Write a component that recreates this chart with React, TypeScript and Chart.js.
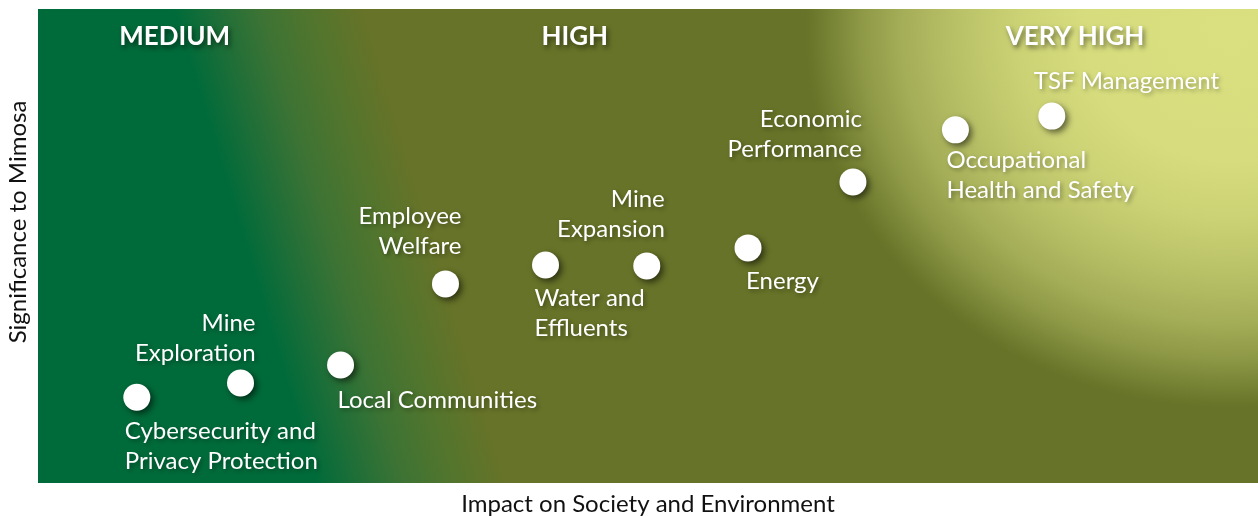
import React, { useEffect, useRef } from "react";
import { Chart, registerables } from "chart.js";

Chart.register(...registerables);

// ---- data ----
const topics: string[][] = [
  ["Cybersecurity and", "Privacy Protection"],
  ["Mine", "Exploration"],
  ["Local Communities"],
  ["Employee", "Welfare"],
  ["Water and", "Effluents"],
  ["Mine", "Expansion"],
  ["Energy"],
  ["Economic", "Performance"],
  ["Occupational", "Health and Safety"],
  ["TSF Management"],
];
const impactOnSociety = [0.81, 1.66, 2.48, 3.34, 4.16, 4.99, 5.82, 6.68, 7.52, 8.31];
const significanceToMimosa = [1.81, 2.11, 2.49, 4.2, 4.6, 4.58, 4.96, 6.35, 7.45, 7.74];

const zoneLabels = ["MEDIUM", "HIGH", "VERY HIGH"];
const zoneCenters = [1.12, 4.4, 8.5];

const xTitle = "Impact on Society and Environment";
const yTitle = "Significance to Mimosa";

// ---- label placement (style) ----
type Place = { align: CanvasTextAlign; dx: number; dy: number };
const placements: Place[] = [
  { align: "left", dx: -12, dy: 34 },
  { align: "right", dx: 15, dy: -60 },
  { align: "left", dx: -3, dy: 35 },
  { align: "right", dx: 16, dy: -68 },
  { align: "left", dx: -11, dy: 33 },
  { align: "right", dx: 18, dy: -67 },
  { align: "left", dx: -2, dy: 33 },
  { align: "right", dx: 9, dy: -63 },
  { align: "left", dx: -9, dy: 30 },
  { align: "left", dx: -18, dy: -35 },
];

const FONT = "Lato, 'Noto Sans', sans-serif";
const LINE_H = 30.5;

const backgroundPlugin = {
  id: "matrixBackground",
  beforeDraw(chart: any) {
    const { ctx, chartArea } = chart;
    const { left, top, right, bottom } = chartArea;
    ctx.save();
    ctx.beginPath();
    ctx.rect(left, top, right - left, bottom - top);
    ctx.clip();
    const lg = ctx.createLinearGradient(245, 245, 418, 193);
    lg.addColorStop(0, "rgb(0,107,58)");
    lg.addColorStop(0.2, "rgb(28,110,56)");
    lg.addColorStop(0.45, "rgb(60,115,52)");
    lg.addColorStop(0.72, "rgb(82,117,45)");
    lg.addColorStop(1, "rgb(102,115,40)");
    ctx.fillStyle = lg;
    ctx.fillRect(left, top, right - left, bottom - top);

    // elliptical glow in the top-right corner
    const cx = 1230, cy = 30, rx = 425, ry = 378;
    ctx.translate(cx, cy);
    ctx.scale(rx / ry, 1);
    const rg = ctx.createRadialGradient(0, 0, 0, 0, 0, ry);
    const L = "218,224,128";
    rg.addColorStop(0, `rgba(${L},1)`);
    rg.addColorStop(0.35, `rgba(${L},0.97)`);
    rg.addColorStop(0.5, `rgba(${L},0.87)`);
    rg.addColorStop(0.65, `rgba(${L},0.71)`);
    rg.addColorStop(0.77, `rgba(${L},0.54)`);
    rg.addColorStop(0.87, `rgba(${L},0.34)`);
    rg.addColorStop(0.95, `rgba(${L},0.12)`);
    rg.addColorStop(1, `rgba(${L},0)`);
    ctx.fillStyle = rg;
    ctx.fillRect(-ry * 2, -ry * 2, ry * 4, ry * 4);
    ctx.restore();
  },
  beforeDatasetsDraw(chart: any) {
    const ctx = chart.ctx;
    ctx.save();
    ctx.shadowColor = "rgba(0,0,0,0.55)";
    ctx.shadowBlur = 6;
    ctx.shadowOffsetX = 3;
    ctx.shadowOffsetY = 3;
  },
  afterDatasetsDraw(chart: any) {
    const ctx = chart.ctx;
    ctx.restore();

    const meta = chart.getDatasetMeta(0);
    const xs = chart.scales.x;
    ctx.save();
    // topic labels
    ctx.font = `24px ${FONT}`;
    ctx.fillStyle = "#ffffff";
    ctx.textBaseline = "middle";
    ctx.shadowColor = "rgba(0,0,0,0.35)";
    ctx.shadowBlur = 4;
    ctx.shadowOffsetX = 2;
    ctx.shadowOffsetY = 2;
    meta.data.forEach((pt: any, i: number) => {
      const p = placements[i];
      const lines = topics[i];
      ctx.textAlign = p.align;
      lines.forEach((line, j) => {
        ctx.fillText(line, pt.x + p.dx, pt.y + p.dy + j * LINE_H);
      });
    });
    // zone labels
    ctx.font = `bold 26px ${FONT}`;
    ctx.textAlign = "center";
    ctx.shadowColor = "rgba(0,0,0,0.5)";
    ctx.shadowBlur = 5;
    ctx.shadowOffsetX = 2;
    ctx.shadowOffsetY = 3;
    zoneLabels.forEach((z, i) => {
      ctx.fillText(z, xs.getPixelForValue(zoneCenters[i]), chart.chartArea.top + 28);
    });
    ctx.restore();

    // y axis title
    ctx.save();
    ctx.font = `24px ${FONT}`;
    ctx.fillStyle = "#111111";
    ctx.textAlign = "center";
    ctx.textBaseline = "middle";
    ctx.translate(18, 222);
    ctx.rotate(-Math.PI / 2);
    ctx.fillText(yTitle, 0, 0);
    ctx.restore();
  },
};

export default function App() {
  const ref = useRef<HTMLCanvasElement | null>(null);
  useEffect(() => {
    if (!ref.current) return;
    const chart = new Chart(ref.current, {
      type: "scatter",
      data: {
        datasets: [
          {
            label: "Material topics",
            data: impactOnSociety.map((x, i) => ({ x, y: significanceToMimosa[i] })),
            backgroundColor: "#ffffff",
            borderColor: "#ffffff",
            borderWidth: 0,
            pointRadius: 13.5,
            pointHoverRadius: 13.5,
          },
        ],
      },
      options: {
        animation: false,
        responsive: true,
        maintainAspectRatio: false,
        layout: { autoPadding: false, padding: { left: 38, top: 9, right: 0, bottom: 0 } },
        plugins: { legend: { display: false }, tooltip: { enabled: false }, title: { display: false } },
        events: [],
        scales: {
          x: {
            type: "linear",
            min: 0,
            max: 10,
            ticks: { display: false },
            grid: { display: false, drawTicks: false },
            border: { display: false },
            title: {
              display: true,
              text: xTitle,
              color: "#111111",
              font: { family: FONT, size: 24, lineHeight: 1 },
              padding: { top: 9, bottom: 0 },
            },
          },
          y: {
            type: "linear",
            display: false,
            min: 0,
            max: 10,
          },
        },
      },
      plugins: [backgroundPlugin],
    });
    return () => chart.destroy();
  }, []);
  return (
    <div style={{ position: "absolute", left: 0, top: 0, width: 1258, height: 516, background: "#fff" }}>
      <canvas ref={ref} />
    </div>
  );
}
